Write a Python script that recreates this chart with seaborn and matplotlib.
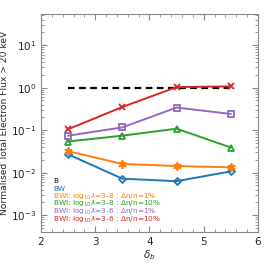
import numpy as np
import pandas as pd
import matplotlib
matplotlib.use("Agg")
import matplotlib.pyplot as plt
import seaborn as sns

# data
delta_b = [2.5, 3.5, 4.5, 5.5]
flux_b = [1.0, 1.0, 1.0, 1.0]
flux_bw = [0.027, 0.0072, 0.0063, 0.0107]
flux_l38_1 = [0.032, 0.016, 0.0143, 0.0133]
flux_l38_10 = [0.054, 0.074, 0.108, 0.039]
flux_l36_1 = [0.074, 0.116, 0.34, 0.24]
flux_l36_10 = [0.105, 0.35, 1.03, 1.07]

labels = ["B", "BW",
          r"BWI: log$_{10}\lambda$=3-8 : $\Delta$n/n=1%",
          r"BWI: log$_{10}\lambda$=3-8 : $\Delta$n/n=10%",
          r"BWI: log$_{10}\lambda$=3-6 : $\Delta$n/n=1%",
          r"BWI: log$_{10}\lambda$=3-6 : $\Delta$n/n=10%"]
colors = ["black", "#1f77b4", "#ff7f0e", "#2ca02c", "#9467bd", "#d62728"]

sns.set_style("ticks")
plt.rcParams["font.family"] = ["DejaVu Sans"]
fig = plt.figure(figsize=(2.73, 2.73), dpi=100)
ax = fig.add_axes([0.15, 0.15, 0.795, 0.8])

# dashed reference line for B
sns.lineplot(x=delta_b, y=flux_b, ax=ax, color="black", linestyle=(0, (3, 2)), lw=1.6)

series = [
    (flux_bw, colors[1], "D", 3.5),
    (flux_l38_1, colors[2], (6, 2, 0), 6),
    (flux_l38_10, colors[3], "^", 5),
    (flux_l36_1, colors[4], "s", 5),
    (flux_l36_10, colors[5], "x", 5),
]
for vals, c, m, ms in series:
    sns.lineplot(x=delta_b, y=vals, ax=ax, color=c, lw=1.4, marker=m,
                 markersize=ms, markerfacecolor="none", markeredgecolor=c,
                 markeredgewidth=1.3)

ax.set_yscale("log")
ax.set_xlim(2, 6)
ax.set_ylim(4e-4, 55)
ax.set_xticks([2, 3, 4, 5, 6])
ax.xaxis.set_minor_locator(matplotlib.ticker.MultipleLocator(0.2))
ax.tick_params(which="both", direction="in", top=True, right=True, labelsize=7.5,
               color="#888888")
ax.tick_params(which="major", length=4)
ax.tick_params(which="minor", length=2)
for s in ax.spines.values():
    s.set_color("#888888")
    s.set_linewidth(0.8)

ax.set_xlabel(r"$\delta_b$", fontsize=7.5, labelpad=1)
ax.set_ylabel("Normalised Total Electron Flux > 20 keV", fontsize=6.6, labelpad=1)

for i, (lab, c) in enumerate(zip(labels, colors)):
    ax.text(0.055, 0.235 - i * 0.036, lab, color=c, fontsize=5.3,
            transform=ax.transAxes, va="center", ha="left")

fig.savefig("out.png", dpi=100)
